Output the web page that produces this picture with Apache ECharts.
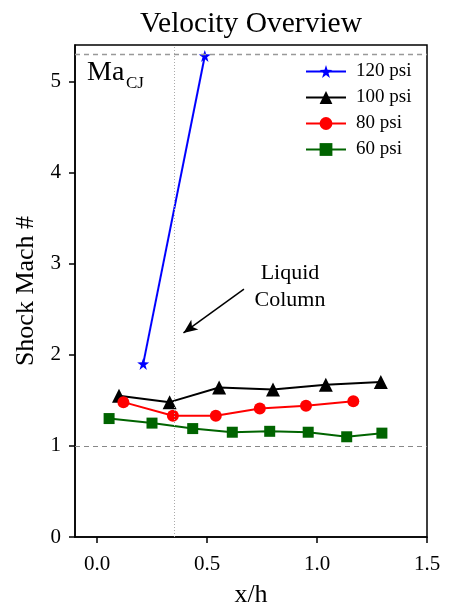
<!DOCTYPE html>
<html>
<head>
<meta charset="utf-8">
<script src="https://cdn.jsdelivr.net/npm/echarts@6/dist/echarts.min.js"></script>
<style>
  html, body { margin: 0; padding: 0; background: #fff; }
  #main { width: 451px; height: 608px; }
</style>
</head>
<body>
<div id="main"></div>
<script>
// data
var psi120 = [[0.21, 1.90], [0.49, 5.28]]
var psi100 = [[0.10, 1.55], [0.33, 1.48], [0.555, 1.64], [0.80, 1.62], [1.04, 1.67], [1.29, 1.70]]
var psi80 = [[0.12, 1.48], [0.345, 1.33], [0.54, 1.33], [0.74, 1.41], [0.95, 1.44], [1.165, 1.49]]
var psi60 = [[0.055, 1.30], [0.25, 1.25], [0.435, 1.19], [0.615, 1.15], [0.785, 1.16], [0.96, 1.15], [1.135, 1.10], [1.295, 1.14]]
var xTicks = [0, 0.5, 1, 1.5]
var yTicks = [0, 1, 2, 3, 4, 5]
var maCJ = 5.3
var liquidX = 0.35
var refLine = 1
var arrowFrom = [0.668, 2.72]
var arrowTo = [0.393, 2.24]

var serif = 'Liberation Serif'
var chart = echarts.init(document.getElementById('main'))

function mk(name, data, color, symbol, size) {
  return {
    name: name,
    type: 'line',
    data: data,
    symbol: symbol,
    symbolSize: size,
    itemStyle: { color: color },
    lineStyle: { color: color, width: 2 },
    emphasis: { disabled: true },
    animation: false
  }
}

var s120 = mk('120 psi', psi120, '#0000ff', 'path://M50,0 L61.8,36.2 L100,38.2 L69.1,61.8 L80.9,100 L50,76.4 L19.1,100 L30.9,61.8 L0,38.2 L38.2,36.2 Z', 12)
s120.markLine = {
  silent: true,
  symbol: ['none', 'none'],
  label: { show: false },
  animation: false,
  data: [
    { yAxis: maCJ, lineStyle: { type: [5, 4], color: '#999', width: 1.3 } },
    { yAxis: refLine, lineStyle: { type: [5, 4], color: '#888', width: 1.2 } },
    { xAxis: liquidX, lineStyle: { type: [1, 2], color: '#aaa', width: 1 } },
    [
      { coord: arrowFrom, symbol: 'none', lineStyle: { type: 'solid', color: '#000', width: 1.5 } },
      { coord: arrowTo, symbol: 'arrow', symbolSize: [9, 14] }
    ]
  ]
}

chart.setOption({
  backgroundColor: '#fff',
  title: {
    text: 'Velocity Overview',
    left: 246,
    top: 4,
    textAlign: 'center',
    textStyle: { fontFamily: serif, fontSize: 29.5, fontWeight: 'normal', color: '#000' }
  },
  grid: {
    left: 75, right: 24, top: 45, bottom: 71,
    outerBoundsMode: 'none',
    show: true, borderColor: '#000', borderWidth: 1.5
  },
  legend: {
    orient: 'vertical',
    left: 300,
    top: 57,
    itemWidth: 40,
    itemHeight: 16,
    itemGap: 7,
    textStyle: { fontFamily: serif, fontSize: 19, color: '#000', padding: [0, 0, 0, 5] },
    data: ['120 psi', '100 psi', '80 psi', '60 psi']
  },
  xAxis: {
    type: 'value',
    min: -0.1,
    max: 1.5,
    name: 'x/h',
    nameLocation: 'middle',
    nameGap: 45,
    nameTextStyle: { fontFamily: serif, fontSize: 26, color: '#000' },
    splitLine: { show: false },
    axisLine: { show: true, onZero: false, lineStyle: { color: '#000', width: 1.5 } },
    axisTick: { show: true, length: 6, customValues: xTicks, lineStyle: { color: '#000', width: 1.5 } },
    axisLabel: {
      customValues: xTicks, margin: 17,
      fontFamily: serif, fontSize: 21, color: '#000',
      formatter: function (v) { return v.toFixed(1) }
    }
  },
  yAxis: {
    type: 'value',
    min: 0,
    max: 5.4,
    name: 'Shock Mach #',
    nameLocation: 'middle',
    nameGap: 35,
    nameTextStyle: { fontFamily: serif, fontSize: 26, color: '#000' },
    splitLine: { show: false },
    axisLine: { show: true, onZero: false, lineStyle: { color: '#000', width: 1.5 } },
    axisTick: { show: true, length: 6, customValues: yTicks, lineStyle: { color: '#000', width: 1.5 } },
    axisLabel: {
      customValues: yTicks, margin: 14,
      fontFamily: serif, fontSize: 21, color: '#000'
    }
  },
  graphic: [
    { type: 'text', left: 87, top: 59, style: { text: 'Ma', font: '28px "Liberation Serif"', fill: '#000' } },
    { type: 'text', left: 126, top: 75, style: { text: 'CJ', font: '17px "Liberation Serif"', fill: '#000' } },
    { type: 'text', x: 290, y: 260, style: { text: 'Liquid\nColumn', align: 'center', lineHeight: 27, font: '22px "Liberation Serif"', fill: '#000' } }
  ],
  series: [
    s120,
    mk('100 psi', psi100, '#000000', 'triangle', 14),
    mk('80 psi', psi80, '#ff0000', 'circle', 12),
    mk('60 psi', psi60, '#006400', 'rect', 11)
  ]
})
</script>
</body>
</html>
